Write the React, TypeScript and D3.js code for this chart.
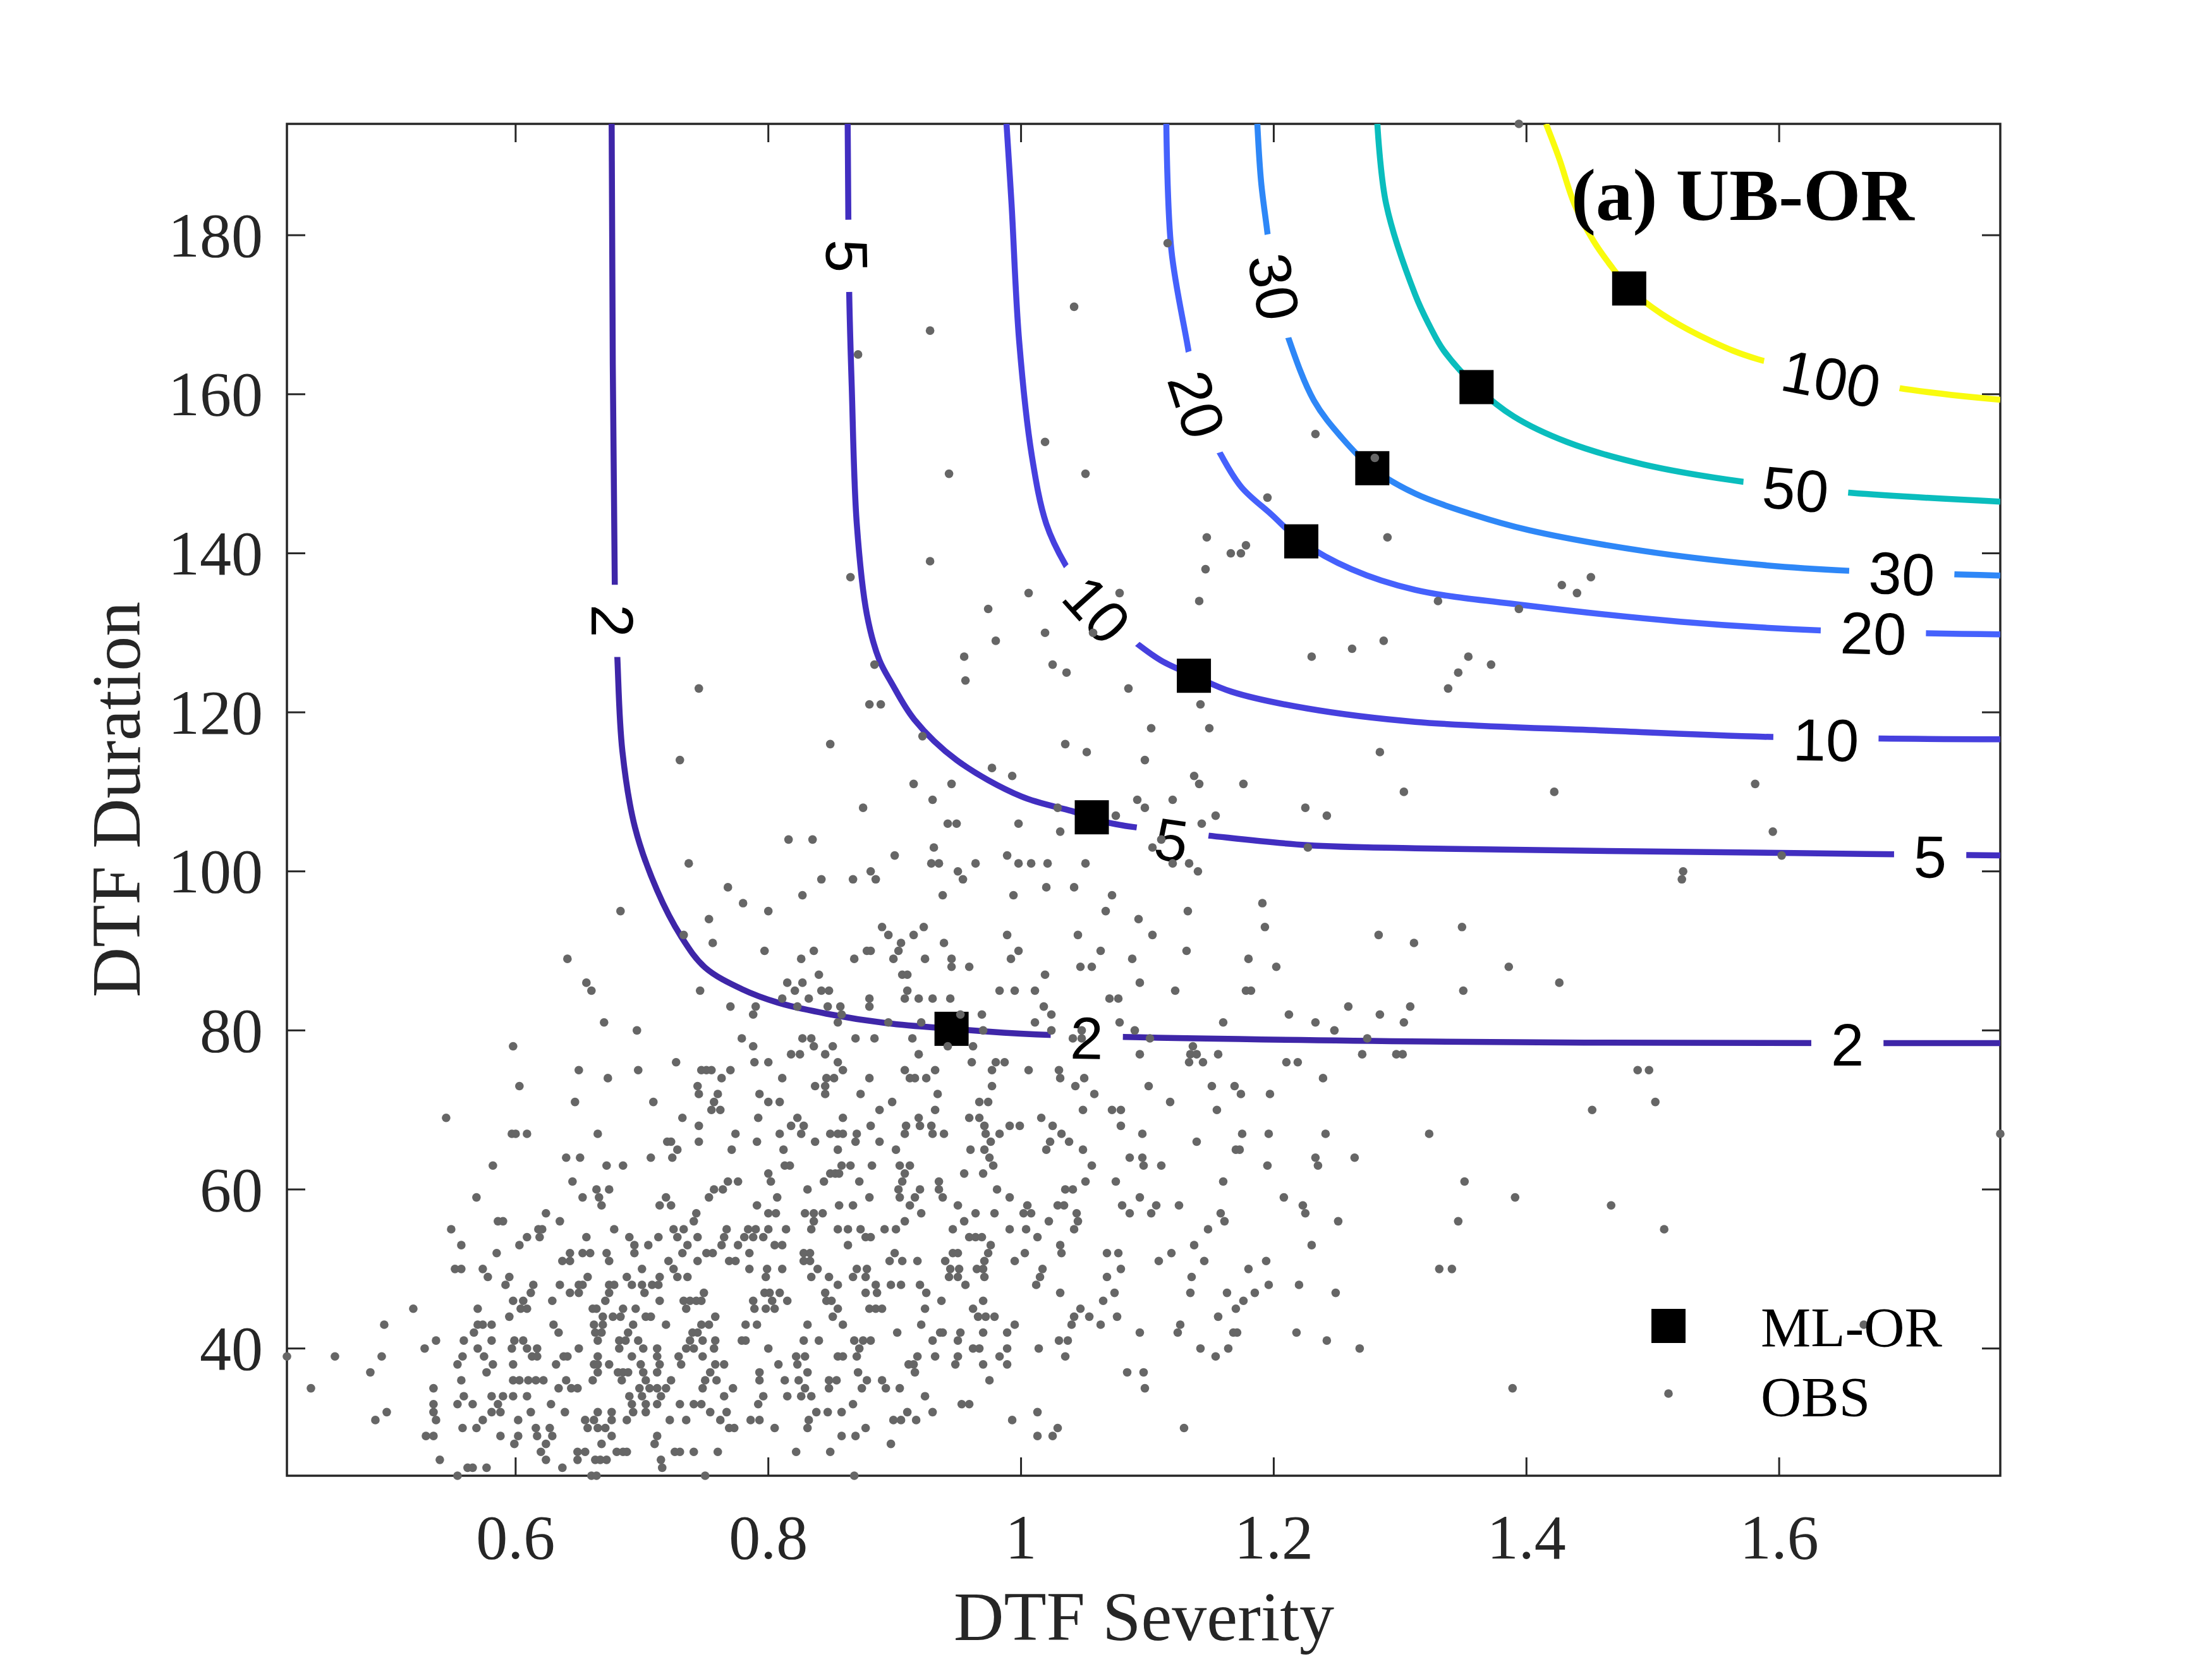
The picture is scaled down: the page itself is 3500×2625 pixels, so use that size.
import React from 'react';
import * as d3 from 'd3';

// ---------- axes ----------
const X_DOMAIN: [number, number] = [0.419, 1.775];
const Y_DOMAIN: [number, number] = [24, 194];
const X_TICKS = [0.6, 0.8, 1, 1.2, 1.4, 1.6];
const Y_TICKS = [40, 60, 80, 100, 120, 140, 160, 180];
const X_LABEL = 'DTF Severity';
const Y_LABEL = 'DTF Duration';
const TITLE = '(a) UB-OR';

// ---------- contour levels (return period, years) ----------
const LEVELS = [2, 5, 10, 20, 30, 50, 100];
const LEVEL_COLORS = ['#3e26a8', '#412ec0', '#4640de', '#4561fc', '#2e87f7', '#0abdbd', '#f9fb0e'];

const CONTOUR_2: [number, number][] = [[0.676,194.0],[0.6785,135.8],[0.6805,126.9],[0.6845,115.1],[0.6945,105.5],[0.712,97.6],[0.731,91.8],[0.750,87.9],[0.779,85.2],[0.8075,83.5],[0.846,82.1],[0.894,80.9],[0.945,80.2],[1.012,79.5],[1.324,78.6],[1.654,78.4],[1.775,78.4]];
const CONTOUR_5: [number, number][] = [[0.8628,194.0],[0.864,172.8],[0.866,161.0],[0.870,143.7],[0.878,132.3],[0.8878,126.6],[0.8975,123.7],[0.9155,119.1],[0.949,114.0],[1.0005,109.4],[1.040,107.6],[1.056,106.8],[1.0695,106.1],[1.0925,105.5],[1.148,104.5],[1.2265,103.3],[1.312,102.9],[1.612,102.3],[1.775,102.0]];
const CONTOUR_10: [number, number][] = [[0.9885,194.0],[0.9925,183.9],[0.9985,166.7],[1.0085,152.3],[1.020,143.7],[1.035,138.6],[1.0598,132.9],[1.0905,128.8],[1.111,126.5],[1.1368,124.6],[1.1665,122.6],[1.2258,120.5],[1.312,118.8],[1.462,117.7],[1.594,116.9],[1.775,116.6]];
const CONTOUR_20: [number, number][] = [[1.115,194.0],[1.119,178.1],[1.133,165.0],[1.1388,158.6],[1.1585,152.3],[1.1745,148.3],[1.198,144.9],[1.2218,141.5],[1.2615,138.0],[1.312,135.4],[1.402,133.4],[1.5218,131.4],[1.6328,130.3],[1.775,129.8]];
const CONTOUR_30: [number, number][] = [[1.187,194.0],[1.190,186.7],[1.195,180.3],[1.200,173.5],[1.212,166.9],[1.2318,159.2],[1.2535,154.6],[1.278,150.7],[1.312,147.5],[1.357,144.9],[1.402,142.9],[1.492,140.3],[1.5818,138.6],[1.655,137.8],[1.775,137.2]];
const CONTOUR_50: [number, number][] = [[1.282,194.0],[1.289,183.9],[1.312,172.5],[1.324,168.4],[1.3345,165.5],[1.3605,160.9],[1.390,157.2],[1.432,154.0],[1.492,151.2],[1.5713,149.0],[1.6567,147.6],[1.775,146.5]];
const CONTOUR_100: [number, number][] = [[1.4155,194.0],[1.426,189.6],[1.438,183.9],[1.453,179.3],[1.468,175.9],[1.4813,173.3],[1.507,170.1],[1.546,166.7],[1.5833,164.4],[1.694,160.8],[1.775,159.3]];
const CONTOURS = [CONTOUR_2, CONTOUR_5, CONTOUR_10, CONTOUR_20, CONTOUR_30, CONTOUR_50, CONTOUR_100];

const CONTOUR_LABELS = [
  { level: 2, x: 0.6765, y: 131.5, angle: 90 },
  { level: 2, x: 1.052, y: 79.0, angle: 1 },
  { level: 2, x: 1.654, y: 78.2, angle: 0 },
  { level: 5, x: 0.862, y: 177.4, angle: 89 },
  { level: 5, x: 1.119, y: 103.9, angle: 8 },
  { level: 5, x: 1.7195, y: 101.8, angle: 0.5 },
  { level: 10, x: 1.0598, y: 132.9, angle: 48 },
  { level: 10, x: 1.637, y: 116.5, angle: 1 },
  { level: 20, x: 1.1388, y: 158.7, angle: 72 },
  { level: 20, x: 1.6745, y: 129.9, angle: 1.5 },
  { level: 30, x: 1.2, y: 173.5, angle: 79 },
  { level: 30, x: 1.697, y: 137.4, angle: 2.5 },
  { level: 50, x: 1.613, y: 148.0, angle: 5 },
  { level: 100, x: 1.641, y: 161.9, angle: 11 },
];

// ---------- most-likely design events (ML-OR) ----------
const ML_OR_SEVERITY = [0.945, 1.056, 1.1368, 1.2218, 1.278, 1.3605, 1.4813];
const ML_OR_DURATION = [80.2, 106.8, 124.6, 141.5, 150.7, 160.9, 173.3];

// ---------- observed events (OBS): [duration, severities] ----------
const OBS_ROWS: [number, number[]][] = [
  [194, [1.394]], [179, [1.116]], [171, [1.042]], [168, [0.928]], [165, [0.871]],
  [155, [1.233]], [154, [1.019]], [152, [1.280]], [150, [0.943, 1.051]], [147, [1.195]],
  [142, [1.147, 1.290]], [141, [1.178]], [140, [1.166, 1.174]], [139, [0.928]], [138, [1.146]],
  [137, [0.865, 1.451]], [136, [1.428]], [135, [1.006, 1.078, 1.440]], [134, [1.141, 1.330]],
  [133, [0.974, 1.394]], [130, [1.019, 1.057]], [129, [0.980, 1.287]], [128, [1.262]],
  [127, [0.955, 1.230, 1.354]], [126, [0.884, 1.025, 1.372]], [125, [1.036, 1.346]], [124, [0.956]],
  [123, [0.745, 1.085, 1.338]], [121, [0.880, 0.889, 1.142]], [118, [1.103, 1.149]], [117, [0.922]],
  [116, [0.849, 1.035]], [115, [1.052, 1.284]], [114, [0.730, 1.098]], [113, [0.977]],
  [112, [0.993, 1.137]], [111, [0.915, 0.945, 1.141, 1.176, 1.581]], [110, [1.303, 1.422]],
  [109, [0.930, 1.092, 1.120]], [108, [0.875, 1.029, 1.098, 1.225]], [107, [1.075, 1.154, 1.242]],
  [106, [0.942, 0.949, 0.998, 1.143]], [105, [1.031, 1.595]], [104, [0.816, 0.835, 1.111]],
  [103, [0.931, 1.104, 1.227]], [102, [0.900, 0.989, 1.602]],
  [101, [0.737, 0.929, 0.935, 0.964, 0.998, 1.008, 1.021, 1.051, 1.120, 1.133]],
  [100, [0.881, 0.950, 1.140, 1.524]], [99, [0.842, 0.867, 0.885, 0.954, 1.523]],
  [98, [0.768, 1.020, 1.042]], [97, [0.827, 0.938, 0.994, 1.072]], [96, [0.780, 1.191]],
  [95, [0.683, 0.800, 1.067, 1.132]], [94, [0.753, 1.093]], [93, [0.890, 0.923, 1.193, 1.349]],
  [92, [0.733, 0.895, 0.915, 0.989, 1.045, 1.104, 1.283]], [91, [0.756, 0.905, 0.939, 1.311]],
  [90, [0.797, 0.836, 0.878, 0.881, 0.903, 0.998, 1.063, 1.131]],
  [89, [0.641, 0.826, 0.868, 0.899, 0.924, 0.945, 0.992, 1.088, 1.180]],
  [88, [0.945, 0.959, 1.047, 1.056, 1.202, 1.386]], [87, [0.840, 0.906, 0.910, 1.019]],
  [86, [0.656, 0.815, 0.827, 1.094, 1.426]],
  [85, [0.660, 0.746, 0.821, 0.842, 0.848, 0.910, 0.983, 0.995, 1.011, 1.122, 1.178, 1.182, 1.350]],
  [84, [0.811, 0.832, 0.880, 0.908, 0.919, 0.930, 0.944, 1.070, 1.077]],
  [83, [0.770, 0.790, 0.823, 0.847, 0.857, 0.880, 1.018, 1.259, 1.308]],
  [82, [0.788, 0.858, 0.952, 0.969, 1.024, 1.212, 1.284]],
  [81, [0.670, 0.855, 0.895, 0.921, 1.011, 1.078, 1.160, 1.233, 1.303]],
  [80, [0.696, 0.970, 1.024, 1.048, 1.090, 1.248]],
  [79, [0.779, 0.827, 0.834, 0.869, 0.884, 0.914, 1.041, 1.048, 1.102, 1.274]],
  [78, [0.598, 0.788, 0.836, 0.851, 0.942, 0.962, 1.136]],
  [77, [0.818, 0.825, 0.845, 0.919, 1.094, 1.134, 1.139, 1.156, 1.270, 1.297, 1.302]],
  [76, [0.727, 0.789, 0.800, 0.855, 0.961, 0.980, 0.987, 1.133, 1.144, 1.210, 1.219]],
  [75, [0.650, 0.697, 0.747, 0.751, 0.755, 0.770, 0.859, 0.908, 0.932, 0.977, 1.006, 1.030, 1.488, 1.497]],
  [74, [0.673, 0.763, 0.811, 0.846, 0.852, 0.880, 0.912, 0.916, 0.925, 1.031, 1.050, 1.239]],
  [73, [0.603, 0.744, 0.837, 0.845, 0.977, 1.043, 1.101, 1.151, 1.169]],
  [72, [0.745, 0.760, 0.793, 0.845, 0.873, 0.934, 1.058, 1.174, 1.197]],
  [71, [0.647, 0.709, 0.757, 0.800, 0.809, 0.898, 0.967, 0.974, 1.118, 1.502]],
  [70, [0.755, 0.762, 0.888, 0.932, 1.049, 1.072, 1.079, 1.155, 1.452]],
  [69, [0.545, 0.732, 0.792, 0.823, 0.859, 0.919, 0.959, 0.967, 1.016]],
  [68, [0.745, 0.818, 0.828, 0.881, 0.909, 0.920, 0.929, 0.971, 0.991, 0.999, 1.025, 1.079]],
  [67, [0.597, 0.600, 0.609, 0.665, 0.774, 0.809, 0.826, 0.849, 0.855, 0.859, 0.870, 0.908, 0.930, 0.939, 0.972, 0.983, 1.032, 1.096, 1.175, 1.196, 1.241, 1.323, 1.775]],
  [66, [0.720, 0.723, 0.745, 0.791, 0.837, 0.869, 0.888, 0.976, 1.023, 1.038, 1.139]],
  [65, [0.728, 0.771, 0.812, 0.855, 0.901, 0.960, 0.971, 1.020, 1.049, 1.170, 1.173]],
  [64, [0.640, 0.651, 0.707, 0.724, 0.975, 1.086, 1.096, 1.233, 1.264]],
  [63, [0.582, 0.672, 0.685, 0.813, 0.817, 0.858, 0.865, 0.882, 0.904, 0.912, 0.978, 1.056, 1.097, 1.111, 1.195, 1.235]],
  [62, [0.800, 0.849, 0.853, 0.856, 0.908, 0.955, 0.970]],
  [61, [0.645, 0.768, 0.776, 0.802, 0.844, 0.872, 0.906, 0.935, 1.051, 1.075, 1.160, 1.351]],
  [60, [0.664, 0.674, 0.757, 0.764, 0.831, 0.903, 0.920, 0.935, 0.981, 1.035, 1.041]],
  [59, [0.569, 0.653, 0.666, 0.719, 0.753, 0.807, 0.880, 0.904, 0.916, 0.938, 0.991, 1.094, 1.208, 1.391]],
  [58, [0.668, 0.714, 0.723, 0.791, 0.856, 0.867, 0.912, 0.950, 1.005, 1.029, 1.034, 1.080, 1.107, 1.125, 1.223, 1.467]],
  [57, [0.624, 0.743, 0.800, 0.806, 0.829, 0.836, 0.843, 0.921, 0.964, 0.979, 1.002, 1.008, 1.044, 1.086, 1.103, 1.158, 1.225]],
  [56, [0.586, 0.590, 0.635, 0.741, 0.836, 0.908, 0.955, 1.022, 1.045, 1.161, 1.251, 1.346]],
  [55, [0.549, 0.618, 0.621, 0.678, 0.725, 0.733, 0.767, 0.784, 0.790, 0.800, 0.814, 0.834, 0.855, 0.863, 0.873, 0.892, 0.901, 0.946, 0.991, 1.004, 1.042, 1.148, 1.509]],
  [54, [0.609, 0.619, 0.656, 0.690, 0.713, 0.728, 0.744, 0.765, 0.781, 0.788, 0.796, 0.877, 0.881, 0.959, 0.964, 0.969, 1.013]],
  [53, [0.557, 0.603, 0.694, 0.705, 0.736, 0.763, 0.776, 0.805, 0.811, 0.863, 0.976, 1.031, 1.137, 1.230]],
  [52, [0.585, 0.643, 0.653, 0.659, 0.672, 0.694, 0.732, 0.751, 0.756, 0.785, 0.828, 0.833, 0.900, 0.946, 0.950, 0.974, 1.003, 1.032, 1.068, 1.077, 1.119]],
  [51, [0.637, 0.643, 0.674, 0.721, 0.744, 0.769, 0.774, 0.828, 0.833, 0.896, 0.906, 0.918, 0.940, 0.971, 0.995, 1.109, 1.145, 1.194]],
  [50, [0.552, 0.557, 0.574, 0.700, 0.725, 0.785, 0.799, 0.811, 0.839, 0.870, 0.878, 0.944, 0.951, 0.965, 0.970, 1.017, 1.079, 1.180, 1.331, 1.341]],
  [49, [0.578, 0.595, 0.657, 0.688, 0.714, 0.728, 0.736, 0.798, 0.834, 0.848, 0.867, 0.877, 0.943, 0.950, 0.971, 1.015, 1.068, 1.135]],
  [48, [0.592, 0.614, 0.635, 0.650, 0.653, 0.674, 0.678, 0.692, 0.700, 0.708, 0.713, 0.855, 0.885, 0.897, 0.905, 0.920, 0.956, 1.012, 1.196, 1.220]],
  [47, [0.612, 0.643, 0.650, 0.674, 0.702, 0.749, 0.797, 0.801, 0.809, 0.845, 0.877, 0.886, 0.925, 1.031, 1.074, 1.134, 1.163, 1.185, 1.249]],
  [46, [0.598, 0.606, 0.629, 0.671, 0.714, 0.733, 0.738, 0.743, 0.747, 0.788, 0.803, 0.815, 0.846, 0.850, 0.937, 0.970, 1.065, 1.176]],
  [45, [0.519, 0.570, 0.604, 0.609, 0.661, 0.664, 0.685, 0.695, 0.735, 0.789, 0.798, 0.805, 0.855, 0.880, 0.885, 0.890, 0.924, 0.962, 1.047, 1.170]],
  [44, [0.595, 0.669, 0.677, 0.683, 0.703, 0.707, 0.758, 0.851, 0.966, 0.972, 0.979, 1.042, 1.054, 1.076, 1.156]],
  [43, [0.496, 0.570, 0.574, 0.581, 0.630, 0.662, 0.669, 0.693, 0.719, 0.747, 0.753, 0.782, 0.791, 0.831, 0.859, 0.921, 0.995, 1.040, 1.063, 1.126, 1.667]],
  [42, [0.567, 0.634, 0.663, 0.668, 0.689, 0.740, 0.744, 0.902, 0.936, 0.938, 0.952, 0.970, 0.989, 1.094, 1.124, 1.168, 1.171, 1.218]],
  [41, [0.537, 0.559, 0.581, 0.599, 0.606, 0.665, 0.682, 0.687, 0.697, 0.738, 0.748, 0.758, 0.779, 0.782, 0.828, 0.840, 0.868, 0.875, 0.881, 0.930, 0.950, 1.030, 1.037, 1.242]],
  [40, [0.528, 0.570, 0.597, 0.609, 0.617, 0.650, 0.682, 0.701, 0.712, 0.735, 0.741, 0.757, 0.800, 0.872, 0.962, 0.967, 0.989, 1.014, 1.142, 1.164, 1.268]],
  [39, [0.419, 0.457, 0.494, 0.558, 0.575, 0.613, 0.617, 0.638, 0.641, 0.665, 0.692, 0.712, 0.729, 0.748, 0.822, 0.829, 0.855, 0.859, 0.870, 0.918, 0.932, 0.950, 0.983, 1.035, 1.154]],
  [38, [0.554, 0.582, 0.598, 0.632, 0.662, 0.665, 0.674, 0.699, 0.714, 0.731, 0.758, 0.765, 0.808, 0.823, 0.911, 0.915, 0.948, 0.970, 0.989]],
  [37, [0.485, 0.577, 0.665, 0.681, 0.685, 0.689, 0.701, 0.712, 0.754, 0.793, 0.831, 0.871, 0.916, 1.084, 1.097]],
  [36, [0.557, 0.598, 0.603, 0.610, 0.616, 0.622, 0.640, 0.661, 0.684, 0.703, 0.723, 0.750, 0.759, 0.793, 0.813, 0.824, 0.848, 0.854, 0.878, 0.890, 0.975]],
  [35, [0.438, 0.535, 0.634, 0.644, 0.649, 0.698, 0.706, 0.712, 0.719, 0.748, 0.772, 0.829, 0.848, 0.874, 0.893, 0.904, 1.098, 1.389]],
  [34, [0.559, 0.581, 0.590, 0.598, 0.609, 0.690, 0.700, 0.715, 0.765, 0.796, 0.815, 0.826, 0.834, 0.924]],
  [33, [0.535, 0.554, 0.566, 0.586, 0.628, 0.692, 0.703, 0.712, 0.730, 0.741, 0.747, 0.792, 0.867, 0.953, 0.959]],
  [32, [0.498, 0.535, 0.581, 0.588, 0.612, 0.639, 0.665, 0.676, 0.693, 0.703, 0.754, 0.767, 0.838, 0.847, 0.858, 0.910, 0.930, 1.013]],
  [31, [0.489, 0.537, 0.574, 0.602, 0.655, 0.662, 0.676, 0.688, 0.722, 0.735, 0.762, 0.786, 0.793, 0.832, 0.899, 0.905, 0.917, 0.993]],
  [30, [0.558, 0.569, 0.616, 0.627, 0.657, 0.665, 0.671, 0.769, 0.773, 0.805, 0.831, 0.877, 1.029, 1.129]],
  [29, [0.529, 0.535, 0.588, 0.602, 0.617, 0.629, 0.676, 0.712, 0.858, 0.869, 1.013, 1.025]],
  [28, [0.599, 0.624, 0.668, 0.710, 0.897]],
  [27, [0.620, 0.649, 0.655, 0.680, 0.685, 0.688, 0.726, 0.730, 0.741, 0.760, 0.822, 0.849]],
  [26, [0.540, 0.624, 0.649, 0.663, 0.667, 0.672, 0.715]],
  [25, [0.562, 0.566, 0.577, 0.637, 0.716]],
  [24, [0.554, 0.660, 0.664, 0.750, 0.868]],
];

const LEGEND_ITEMS = ['ML-OR', 'OBS'];

// ---------- layout ----------
const W = 3500;
const H = 2625;
const M = { left: 454, right: 3165, top: 196, bottom: 2335 };
const AXIS_COLOR = '#262626';
const SERIF = "'Liberation Serif', 'Times New Roman', Times, serif";
const SANS = "'Liberation Sans', Arial, Helvetica, sans-serif";
const TICK_LEN = 29;
const LABEL_FS = 94;

export default function App() {
  const x = d3.scaleLinear().domain(X_DOMAIN).range([M.left, M.right]);
  const y = d3.scaleLinear().domain(Y_DOMAIN).range([M.bottom, M.top]);
  const line = d3
    .line<[number, number]>()
    .x((d) => x(d[0]))
    .y((d) => y(d[1]))
    .curve(d3.curveCatmullRom.alpha(0.5));

  const obs: [number, number][] = [];
  OBS_ROWS.forEach(([dur, sevs]) => sevs.forEach((s) => obs.push([s, dur])));

  const sq = 54;

  return (
    <svg
      width={W}
      height={H}
      viewBox={`0 0 ${W} ${H}`}
      style={{ position: 'absolute', left: 0, top: 0, background: '#fff' }}
    >
      <defs>
        <clipPath id="plotClip">
          <rect x={M.left} y={M.top} width={M.right - M.left} height={M.bottom - M.top} />
        </clipPath>
        <mask id="gapMask" maskUnits="userSpaceOnUse" x={0} y={0} width={W} height={H}>
          <rect x={0} y={0} width={W} height={H} fill="#fff" />
          {CONTOUR_LABELS.map((l, i) => {
            const w = String(l.level).length * 0.556 * LABEL_FS + 62;
            return (
              <rect
                key={i}
                x={-w / 2}
                y={-24}
                width={w}
                height={48}
                fill="#000"
                transform={`translate(${x(l.x)},${y(l.y)}) rotate(${l.angle})`}
              />
            );
          })}
        </mask>
      </defs>
      <rect x={0} y={0} width={W} height={H} fill="#fff" />

      {/* axes box and ticks */}
      <rect
        x={M.left}
        y={M.top}
        width={M.right - M.left}
        height={M.bottom - M.top}
        fill="none"
        stroke={AXIS_COLOR}
        strokeWidth={3.5}
      />
      {X_TICKS.map((t) => (
        <g key={'xt' + t}>
          <line x1={x(t)} x2={x(t)} y1={M.bottom} y2={M.bottom - TICK_LEN} stroke={AXIS_COLOR} strokeWidth={3} />
          <line x1={x(t)} x2={x(t)} y1={M.top} y2={M.top + TICK_LEN} stroke={AXIS_COLOR} strokeWidth={3} />
          <text
            x={x(t)}
            y={2466}
            textAnchor="middle"
            fontFamily={SERIF}
            fontSize={100}
            fill={AXIS_COLOR}
          >
            {String(t)}
          </text>
        </g>
      ))}
      {Y_TICKS.map((t) => (
        <g key={'yt' + t}>
          <line x1={M.left} x2={M.left + TICK_LEN} y1={y(t)} y2={y(t)} stroke={AXIS_COLOR} strokeWidth={3} />
          <line x1={M.right} x2={M.right - TICK_LEN} y1={y(t)} y2={y(t)} stroke={AXIS_COLOR} strokeWidth={3} />
          <text
            x={416}
            y={y(t)}
            textAnchor="end"
            dominantBaseline="central"
            fontFamily={SERIF}
            fontSize={100}
            fill={AXIS_COLOR}
          >
            {String(t)}
          </text>
        </g>
      ))}
      <text x={1810} y={2595} textAnchor="middle" fontFamily={SERIF} fontSize={110} fill={AXIS_COLOR}>
        {X_LABEL}
      </text>
      <text
        transform={`translate(221,1265) rotate(-90)`}
        textAnchor="middle"
        fontFamily={SERIF}
        fontSize={110}
        fill={AXIS_COLOR}
      >
        {Y_LABEL}
      </text>

      {/* contour lines */}
      <g clipPath="url(#plotClip)">
        <g mask="url(#gapMask)">
          {CONTOURS.map((c, i) => (
            <path key={'c' + i} d={line(c) || ''} fill="none" stroke={LEVEL_COLORS[i]} strokeWidth={9.5} strokeLinejoin="round" />
          ))}
        </g>
      </g>
      {CONTOUR_LABELS.map((l, i) => (
        <text
          key={'cl' + i}
          transform={`translate(${x(l.x)},${y(l.y)}) rotate(${l.angle})`}
          textAnchor="middle"
          dominantBaseline="central"
          fontFamily={SANS}
          fontSize={LABEL_FS}
          fill="#000"
        >
          {String(l.level)}
        </text>
      ))}

      {/* ML-OR squares */}
      {ML_OR_SEVERITY.map((s, i) => (
        <rect
          key={'ml' + i}
          x={x(s) - sq / 2}
          y={y(ML_OR_DURATION[i]) - sq / 2}
          width={sq}
          height={sq}
          fill="#000"
        />
      ))}

      {/* observations */}
      {obs.map((p, i) => (
        <circle key={'o' + i} cx={x(p[0])} cy={y(p[1])} r={6.8} fill="#666666" />
      ))}

      {/* title */}
      <text x={2486} y={348} fontFamily={SERIF} fontWeight="bold" fontSize={117} fill="#000">
        {TITLE}
      </text>

      {/* legend */}
      <rect x={2640 - sq / 2} y={2098 - sq / 2} width={sq} height={sq} fill="#000" />
      <circle cx={2640} cy={2205} r={6.8} fill="#666666" />
      <text x={2786} y={2130} fontFamily={SERIF} fontSize={89} fill="#000">
        {LEGEND_ITEMS[0]}
      </text>
      <text x={2786} y={2240} fontFamily={SERIF} fontSize={89} fill="#000">
        {LEGEND_ITEMS[1]}
      </text>
    </svg>
  );
}
